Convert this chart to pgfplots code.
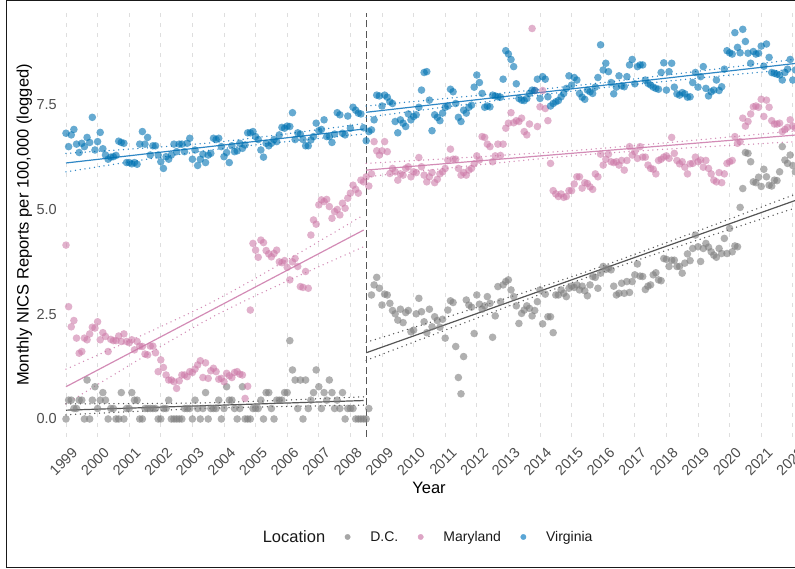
\documentclass[border=0pt]{standalone}
\usepackage{fontspec}
\setmainfont{Liberation Sans}
\usepackage{pgfplots}
\usepackage{pgfplotstable}
\pgfplotsset{compat=1.18}
\definecolor{dcpt}{HTML}{7F7F7F}
\definecolor{mdpt}{HTML}{CC79A7}
\definecolor{vapt}{HTML}{0072B2}
\definecolor{dcline}{HTML}{555555}
\definecolor{mdline}{HTML}{D38CB6}
\definecolor{valine}{HTML}{2F87C5}
\definecolor{dcleg}{HTML}{A6A6A6}
\definecolor{mdleg}{HTML}{DDA5C5}
\definecolor{valeg}{HTML}{5AA6D6}
\definecolor{ticktext}{HTML}{4D4D4D}
\definecolor{gridc}{HTML}{DEDEDE}

% x = year, dc / md / va = monthly NICS reports per 100,000 (logged)
\pgfplotstableread{
x dc md va
1999.000 0.00 4.15 6.82
1999.083 0.45 2.68 6.50
1999.167 0.45 2.20 6.78
1999.250 0.25 2.35 6.91
1999.333 0.25 1.93 6.56
1999.417 0.45 1.57 6.36
1999.500 0.45 1.61 6.58
1999.583 0.00 1.93 6.50
1999.667 0.93 1.89 6.72
1999.750 0.00 2.03 6.60
1999.833 0.45 2.19 7.20
1999.917 0.77 2.17 6.42
2000.000 0.25 2.32 6.62
2000.083 0.45 1.89 6.84
2000.167 0.63 2.06 6.45
2000.250 0.45 1.97 6.30
2000.333 0.00 1.61 6.20
2000.417 0.25 1.90 6.25
2000.500 0.25 1.87 6.26
2000.583 0.00 1.87 6.29
2000.667 0.00 1.98 6.63
2000.750 0.63 1.85 6.60
2000.833 0.00 2.03 6.58
2000.917 0.25 1.85 6.12
2001.000 0.25 1.82 6.12
2001.083 0.63 1.89 6.09
2001.167 0.45 1.65 6.12
2001.250 0.45 1.85 6.08
2001.333 0.00 1.74 6.56
2001.417 0.00 1.73 6.86
2001.500 0.25 1.55 6.56
2001.583 0.25 1.53 6.72
2001.667 0.25 1.74 6.30
2001.750 0.25 1.74 6.52
2001.833 0.25 1.58 6.52
2001.917 0.00 1.13 6.30
2002.000 0.00 1.41 6.14
2002.083 0.25 1.23 5.98
2002.167 0.25 1.05 6.26
2002.250 0.45 0.93 6.20
2002.333 0.00 0.93 6.30
2002.417 0.00 0.89 6.56
2002.500 0.00 0.73 6.38
2002.583 0.00 0.91 6.56
2002.667 0.00 1.05 6.56
2002.750 0.25 1.05 6.38
2002.833 0.25 1.01 6.58
2002.917 0.25 1.13 6.70
2003.000 0.00 1.11 6.20
2003.083 0.45 1.19 6.42
2003.167 0.25 1.29 6.05
2003.250 0.00 1.39 6.20
2003.333 0.25 0.99 6.32
2003.417 0.63 1.34 6.12
2003.500 0.00 0.97 6.30
2003.583 0.25 1.15 6.34
2003.667 0.25 1.21 6.70
2003.750 0.25 1.13 6.67
2003.833 0.45 0.95 6.70
2003.917 0.00 0.97 6.50
2004.000 0.25 0.89 6.26
2004.083 0.77 1.09 6.36
2004.167 0.45 1.03 6.12
2004.250 0.45 0.99 6.52
2004.333 0.25 1.11 6.38
2004.417 0.00 1.13 6.40
2004.500 0.25 1.07 6.58
2004.583 0.77 1.05 6.46
2004.667 0.00 0.49 6.54
2004.750 0.00 0.78 6.83
2004.833 0.00 2.60 6.83
2004.917 0.25 4.19 6.86
2005.000 0.25 4.03 6.74
2005.083 0.25 3.86 6.67
2005.167 0.45 4.27 6.42
2005.250 0.00 4.21 6.25
2005.333 0.63 4.02 6.58
2005.417 0.63 3.94 6.52
2005.500 0.25 3.87 6.58
2005.583 0.00 3.95 6.67
2005.667 0.45 4.03 6.62
2005.750 0.45 3.75 6.78
2005.833 0.45 3.73 6.96
2005.917 0.63 3.78 6.94
2006.000 0.63 3.62 6.99
2006.083 1.87 3.32 6.98
2006.167 1.17 3.75 7.31
2006.250 0.93 3.83 6.67
2006.333 0.25 3.64 6.83
2006.417 0.93 3.16 6.80
2006.500 0.00 3.14 6.67
2006.583 0.93 3.52 6.52
2006.667 0.25 3.12 6.52
2006.750 0.45 4.39 6.66
2006.833 0.63 4.75 6.74
2006.917 1.17 4.65 7.06
2007.000 0.77 5.11 6.88
2007.083 0.25 5.23 6.91
2007.167 0.63 5.19 7.14
2007.250 0.45 5.24 6.74
2007.333 0.93 5.07 6.74
2007.417 0.63 4.79 6.60
2007.500 0.25 4.95 6.80
2007.583 0.45 5.00 7.31
2007.667 0.25 4.87 7.26
2007.750 0.63 5.15 6.82
2007.833 0.00 5.03 6.78
2007.917 0.25 5.27 7.23
2008.000 0.25 5.39 6.94
2008.083 0.25 5.58 7.44
2008.167 0.00 5.48 7.37
2008.250 0.00 5.39 7.30
2008.333 0.00 5.70 7.28
2008.417 0.00 5.66 6.95
2008.500 0.00 5.78 6.64
}\pretable

\pgfplotstableread{
x dc md va
2008.583 0.25 5.56 6.86
2008.667 2.96 5.85 6.90
2008.750 3.20 6.62 7.14
2008.833 3.38 6.40 7.73
2008.917 3.12 6.30 7.71
2009.000 2.72 6.40 7.47
2009.083 2.98 6.62 7.73
2009.167 2.96 6.38 7.68
2009.250 2.76 5.86 7.57
2009.333 2.59 5.98 7.53
2009.417 2.51 5.90 7.10
2009.500 2.36 5.70 6.83
2009.583 2.62 5.85 7.14
2009.667 2.30 5.82 7.06
2009.750 2.54 5.98 6.98
2009.833 2.59 6.02 7.28
2009.917 2.08 5.78 7.14
2010.000 2.12 5.90 7.22
2010.083 2.51 5.88 7.26
2010.167 2.88 6.24 7.44
2010.250 2.56 6.02 7.85
2010.333 2.32 5.82 8.27
2010.417 2.06 5.66 8.29
2010.500 2.62 5.78 7.61
2010.583 2.20 5.88 6.88
2010.667 2.44 5.64 7.26
2010.750 2.35 5.72 7.20
2010.833 2.19 5.85 7.12
2010.917 2.38 5.90 7.30
2011.000 1.93 5.98 7.44
2011.083 2.60 6.18 7.47
2011.167 2.82 6.44 7.87
2011.250 2.78 6.20 7.81
2011.333 1.73 6.20 7.53
2011.417 0.99 5.98 7.20
2011.500 0.60 5.82 7.10
2011.583 1.49 5.88 7.37
2011.667 2.84 5.82 7.30
2011.750 2.72 5.94 7.44
2011.833 2.67 5.98 7.49
2011.917 2.04 6.09 7.92
2012.000 2.96 6.28 8.21
2012.083 2.74 6.18 8.03
2012.167 2.62 6.74 7.77
2012.250 2.70 6.72 7.44
2012.333 2.92 6.56 7.47
2012.417 2.76 6.50 7.45
2012.500 1.95 6.14 7.73
2012.583 2.46 6.28 7.71
2012.667 3.16 6.56 7.69
2012.750 2.80 6.29 7.68
2012.833 3.20 6.56 8.11
2012.917 3.28 6.94 8.79
2013.000 3.32 7.06 8.71
2013.083 3.08 7.31 8.58
2013.167 2.92 7.07 8.41
2013.250 2.70 7.12 8.00
2013.333 2.28 7.10 7.65
2013.417 2.52 7.18 7.61
2013.500 2.60 6.86 7.60
2013.583 2.70 6.78 7.65
2013.667 2.64 7.04 7.77
2013.750 2.46 9.32 7.85
2013.833 2.59 7.84 7.84
2013.917 2.80 6.98 8.11
2014.000 3.08 7.45 7.65
2014.083 2.27 7.84 8.17
2014.167 2.98 7.41 8.11
2014.250 2.44 7.12 7.69
2014.333 2.44 6.10 7.47
2014.417 2.06 5.45 7.53
2014.500 2.96 5.37 7.57
2014.583 2.96 5.31 7.60
2014.667 3.08 5.37 7.69
2014.750 3.00 5.29 7.77
2014.833 2.92 5.31 7.89
2014.917 3.12 5.45 8.19
2015.000 3.17 5.45 7.97
2015.083 3.14 5.61 8.15
2015.167 3.20 5.78 8.09
2015.250 3.08 5.78 7.77
2015.333 3.17 5.51 7.68
2015.417 3.06 5.64 7.63
2015.500 2.94 5.62 7.85
2015.583 3.20 5.54 7.81
2015.667 3.40 5.48 7.77
2015.750 3.38 5.85 7.92
2015.833 3.12 5.78 8.15
2015.917 3.48 6.32 8.93
2016.000 3.64 6.06 8.33
2016.083 3.57 6.20 8.49
2016.167 3.60 6.32 8.29
2016.250 3.56 6.14 8.03
2016.333 3.17 6.12 7.76
2016.417 2.96 6.14 7.92
2016.500 3.00 6.06 8.19
2016.583 3.24 6.17 7.95
2016.667 3.00 5.94 7.93
2016.750 3.28 6.17 8.17
2016.833 3.02 6.50 8.45
2016.917 3.28 6.30 8.58
2017.000 3.44 6.38 8.00
2017.083 3.70 6.22 8.41
2017.167 3.41 6.50 8.45
2017.250 3.40 6.25 8.45
2017.333 3.09 6.25 8.09
2017.417 3.17 6.06 8.01
2017.500 3.20 5.98 7.97
2017.583 3.44 5.96 7.92
2017.667 3.49 5.85 7.89
2017.750 3.32 6.17 7.87
2017.833 3.30 6.20 8.27
2017.917 3.83 6.25 8.50
2018.000 3.81 6.28 7.85
2018.083 3.64 6.22 8.29
2018.167 3.79 6.72 8.49
2018.250 3.79 6.34 7.92
2018.333 3.64 6.17 7.76
2018.417 3.64 6.09 7.73
2018.500 3.48 6.14 7.79
2018.583 3.72 6.01 7.76
2018.667 3.94 5.85 7.68
2018.750 3.78 6.09 7.69
2018.833 4.07 6.10 8.03
2018.917 4.39 6.25 8.27
2019.000 4.11 6.14 7.92
2019.083 3.76 6.18 8.17
2019.167 4.07 6.01 8.41
2019.250 4.19 6.17 7.89
2019.333 4.10 5.98 7.71
2019.417 3.99 5.85 7.81
2019.500 3.91 5.70 7.85
2019.583 3.86 5.66 8.09
2019.667 4.07 5.88 7.84
2019.750 3.95 5.64 7.93
2019.833 4.31 5.85 8.35
2019.917 3.95 6.10 8.79
2020.000 4.55 6.14 8.74
2020.083 3.99 6.17 8.71
2020.167 4.13 6.74 9.22
2020.250 4.11 6.58 8.87
2020.333 5.05 6.62 8.74
2020.417 5.50 7.18 9.30
2020.500 6.36 6.99 9.01
2020.583 6.34 7.10 8.73
2020.667 6.14 7.28 8.49
2020.750 5.66 7.45 8.77
2020.833 5.64 7.47 8.71
2020.917 5.77 7.44 8.73
2021.000 5.55 7.63 8.90
2021.083 5.96 7.22 8.42
2021.167 5.78 7.61 8.95
2021.250 5.58 7.44 8.63
2021.333 5.56 7.12 8.27
2021.417 5.70 7.04 8.25
2021.500 5.69 7.04 8.23
2021.583 5.90 7.06 8.21
2021.667 6.50 6.86 8.09
2021.750 6.18 6.91 8.27
2021.833 6.10 6.96 8.35
2021.917 6.30 7.14 8.58
2022.000 6.05 6.99 8.09
2022.083 5.90 6.94 8.33
}\posttable

\begin{document}
\begin{tikzpicture}[x=1pt,y=1pt]
\useasboundingbox (0,0) rectangle (795,569);
\draw[line width=1.3pt, black!90] (6.7,1.2) rectangle (812,568.3);
\begin{axis}[
  at={(61pt,132pt)}, anchor=south west,
  scale only axis, width=736pt, height=424pt,
  xmin=1998.842, xmax=2022.133, ymin=-0.43, ymax=9.69,
  axis line style={draw=none},
  major tick length=0pt, minor tick num=0,
  xtick={1999,2000,...,2022},
  ytick={0,2.5,5,7.5},
  yticklabels={0.0,2.5,5.0,7.5},
  xmajorgrids=true, ymajorgrids=false,
  grid style={color=gridc, line width=0.9pt, dash pattern=on 4pt off 6pt},
  xticklabel style={/pgf/number format/1000 sep={}, /pgf/number format/assume math mode=true,
     xshift=9pt, yshift=-13pt, rotate=45, anchor=east, inner sep=0pt,
     font=\fontsize{14.5}{17}\selectfont, text=ticktext},
  yticklabel style={anchor=east, inner sep=0pt, xshift=-4pt,
     font=\fontsize{14.5}{17}\selectfont, text=ticktext},
  clip=false,
  legend style={at={(axis description cs:0.2473,-0.2358)}, anchor=west, draw=none, fill=none,
     inner sep=0pt, outer sep=0pt, legend columns=4,
     font=\fontsize{14}{16}\selectfont, text=black!90,
     nodes={inner sep=0pt},
     /tikz/every odd column/.append style={column sep=19.8pt},
     /tikz/every even column/.append style={column sep=19.5pt}},
  legend cell align=left,
]
% vertical break line
\addplot[forget plot, color=dcline, line width=1.1pt, dash pattern=on 7pt off 3.5pt]
  coordinates {(2008.5,-0.43) (2008.5,9.69)};

% points
\addplot[forget plot, only marks, mark=*, mark size=3.8pt, color=dcpt, mark options={draw opacity=0, fill opacity=0.62}]
  table[x=x, y=dc] {\pretable};
\addplot[forget plot, only marks, mark=*, mark size=3.8pt, color=dcpt, mark options={draw opacity=0, fill opacity=0.62}]
  table[x=x, y=dc] {\posttable};
\addplot[forget plot, only marks, mark=*, mark size=3.8pt, color=mdpt, mark options={draw opacity=0, fill opacity=0.58}]
  table[x=x, y=md] {\pretable};
\addplot[forget plot, only marks, mark=*, mark size=3.8pt, color=mdpt, mark options={draw opacity=0, fill opacity=0.58}]
  table[x=x, y=md] {\posttable};
\addplot[forget plot, only marks, mark=*, mark size=3.8pt, color=vapt, mark options={draw opacity=0, fill opacity=0.6}]
  table[x=x, y=va] {\pretable};
\addplot[forget plot, only marks, mark=*, mark size=3.8pt, color=vapt, mark options={draw opacity=0, fill opacity=0.6}]
  table[x=x, y=va] {\posttable};

% fitted lines (pre period)
\addplot[forget plot, color=valine, line width=1.2pt] coordinates {(1999,6.11) (2008.42,6.92)};
\addplot[forget plot, color=valine, line width=1.5pt, line cap=round, dash pattern=on 0pt off 4.8pt, smooth] coordinates {(1999,6.34) (2003.7,6.60) (2008.42,7.05)};
\addplot[forget plot, color=valine, line width=1.5pt, line cap=round, dash pattern=on 0pt off 4.8pt, smooth] coordinates {(1999,5.90) (2003.7,6.43) (2008.42,6.80)};
\addplot[forget plot, color=mdline, line width=1.2pt] coordinates {(1999,0.77) (2008.42,4.51)};
\addplot[forget plot, color=mdline, line width=1.5pt, line cap=round, dash pattern=on 0pt off 4.8pt, smooth] coordinates {(1999,1.19) (2003.7,2.82) (2008.42,4.87)};
\addplot[forget plot, color=mdline, line width=1.5pt, line cap=round, dash pattern=on 0pt off 4.8pt, smooth] coordinates {(1999,0.36) (2003.7,2.46) (2008.42,4.11)};
\addplot[forget plot, color=dcline, line width=1.2pt] coordinates {(1999,0.21) (2008.42,0.44)};
\addplot[forget plot, color=dcline, line width=1.5pt, line cap=round, dash pattern=on 0pt off 4.8pt, smooth] coordinates {(1999,0.36) (2003.7,0.39) (2008.42,0.53)};
\addplot[forget plot, color=dcline, line width=1.5pt, line cap=round, dash pattern=on 0pt off 4.8pt, smooth] coordinates {(1999,0.10) (2003.7,0.26) (2008.42,0.33)};

% fitted lines (post period)
\addplot[forget plot, color=valine, line width=1.2pt] coordinates {(2008.5,7.32) (2022.133,8.49)};
\addplot[forget plot, color=valine, line width=1.5pt, line cap=round, dash pattern=on 0pt off 4.8pt, smooth] coordinates {(2008.5,7.47) (2015.3,7.97) (2022.133,8.59)};
\addplot[forget plot, color=valine, line width=1.5pt, line cap=round, dash pattern=on 0pt off 4.8pt, smooth] coordinates {(2008.5,7.20) (2015.3,7.85) (2022.133,8.36)};
\addplot[forget plot, color=mdline, line width=1.2pt] coordinates {(2008.5,5.94) (2022.133,6.78)};
\addplot[forget plot, color=mdline, line width=1.5pt, line cap=round, dash pattern=on 0pt off 4.8pt, smooth] coordinates {(2008.5,6.10) (2015.3,6.42) (2022.133,6.88)};
\addplot[forget plot, color=mdline, line width=1.5pt, line cap=round, dash pattern=on 0pt off 4.8pt, smooth] coordinates {(2008.5,5.78) (2015.3,6.30) (2022.133,6.62)};
\addplot[forget plot, color=dcline, line width=1.2pt] coordinates {(2008.5,1.58) (2022.133,5.23)};
\addplot[forget plot, color=dcline, line width=1.5pt, line cap=round, dash pattern=on 0pt off 4.8pt, smooth] coordinates {(2008.5,1.83) (2015.3,3.47) (2022.133,5.38)};
\addplot[forget plot, color=dcline, line width=1.5pt, line cap=round, dash pattern=on 0pt off 4.8pt, smooth] coordinates {(2008.5,1.40) (2015.3,3.33) (2022.133,5.05)};

% legend
\addlegendimage{empty legend}
\addlegendentry{\fontsize{16.5}{19}\selectfont Location}
\addlegendimage{legend image code/.code={\fill[dcleg] (0pt,0pt) circle (2.7pt);}}
\addlegendentry{D.C.}
\addlegendimage{legend image code/.code={\fill[mdleg] (0pt,0pt) circle (2.7pt);}}
\addlegendentry{Maryland}
\addlegendimage{legend image code/.code={\fill[valeg] (0pt,0pt) circle (2.7pt);}}
\addlegendentry{Virginia}
\end{axis}
\node[rotate=90, anchor=base, font=\fontsize{16.5}{19}\selectfont, text=black] at (28.7,344) {Monthly NICS Reports per 100,000 (logged)};
\node[anchor=base, font=\fontsize{16.5}{19}\selectfont, text=black] at (429,75) {Year};
\end{tikzpicture}
\end{document}
